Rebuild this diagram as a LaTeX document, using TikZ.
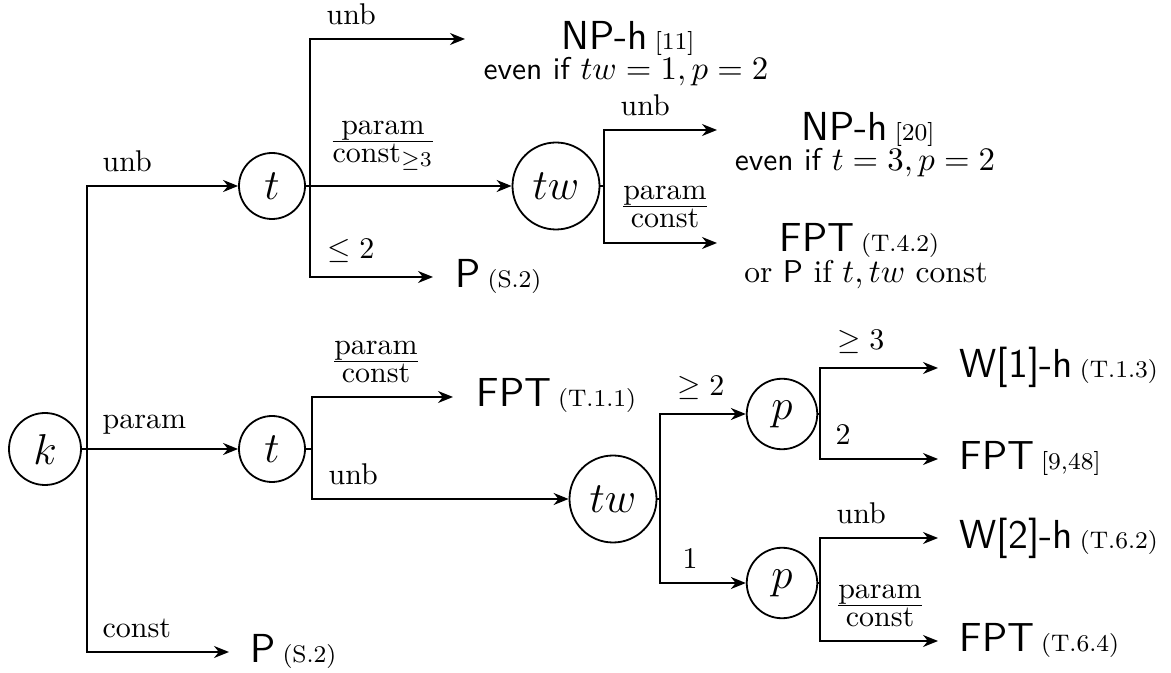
\documentclass[tikz,border=0pt]{standalone}
\usepackage{amsmath}
\usetikzlibrary{arrows.meta}
\tikzset{
  var/.style={draw, circle, line width=0.6pt, inner sep=0pt, font=\Large},
  conn/.style={line width=0.6pt},
  arr/.style={conn, -{Stealth[length=5pt,width=4pt]}},
  lbl/.style={inner sep=0pt, anchor=south west},
  flbl/.style={inner sep=0pt, anchor=south},
  res/.style={inner sep=0pt, anchor=base west, font=\fontsize{13.5}{15}\selectfont\sffamily},
  note/.style={inner sep=0pt, anchor=base, font=\fontsize{10.5}{12}\selectfont},
}
\newcommand{\rsub}[1]{\,{\footnotesize\rmfamily #1}}
\begin{document}
\begin{tikzpicture}[x=0.33333pt, y=-0.33333pt]
\useasboundingbox (0,0) rectangle (1171,673);
% decision nodes
\node[var, minimum size=24pt] (k) at (45,449) {$k$};
\node[var, minimum size=22pt] (t1) at (272,186) {$t$};
\node[var, minimum size=29pt] (tw1) at (556,186) {$tw$};
\node[var, minimum size=22pt] (t2) at (272,449) {$t$};
\node[var, minimum size=29pt] (tw2) at (613,499) {$tw$};
\node[var, minimum size=23.5pt] (p1) at (782,414) {$p$};
\node[var, minimum size=23.5pt] (p2) at (782,583) {$p$};
% split points
\coordinate (ks) at (87,449);
\coordinate (t1s) at (310,186);
\coordinate (tw1s) at (604,186);
\coordinate (t2s) at (312,449);
\coordinate (tw2s) at (660,499);
\coordinate (p1s) at (820,414);
\coordinate (p2s) at (820,583);
% arrow ends
\coordinate (e1) at (465,39);
\coordinate (e2) at (433,277);
\coordinate (e3) at (229,652);
\coordinate (e4) at (717,130);
\coordinate (e5) at (717,243);
\coordinate (e6) at (453,397);
\coordinate (e7) at (938,368);
\coordinate (e8) at (938,459);
\coordinate (e9) at (938,538);
\coordinate (e10) at (938,641);
% stubs
\draw[conn] (k) -- (ks);
\draw[conn] (t1) -- (t1s);
\draw[conn] (tw1) -- (tw1s);
\draw[conn] (t2) -- (t2s);
\draw[conn] (tw2) -- (tw2s);
\draw[conn] (p1) -- (p1s);
\draw[conn] (p2) -- (p2s);
% branches
\draw[arr] (ks) |- (t1);
\draw[arr] (ks) -- (t2);
\draw[arr] (ks) |- (e3);
\draw[arr] (t1s) |- (e1);
\draw[arr] (t1s) -- (tw1);
\draw[arr] (t1s) |- (e2);
\draw[arr] (tw1s) |- (e4);
\draw[arr] (tw1s) |- (e5);
\draw[arr] (t2s) |- (e6);
\draw[arr] (t2s) |- (tw2);
\draw[arr] (tw2s) |- (p1);
\draw[arr] (tw2s) |- (p2);
\draw[arr] (p1s) |- (e7);
\draw[arr] (p1s) |- (e8);
\draw[arr] (p2s) |- (e9);
\draw[arr] (p2s) |- (e10);
% branch labels
\node[lbl] (lk1) at (102,172) {unb};
\node[lbl] (lk2) at (102,435) {param};
\node[lbl] (lk3) at (102,638) {const};
\node[lbl] (lt11) at (326,25) {unb};
\node[flbl] (lt12) at (383,171) {$\frac{\mbox{param}}{\mbox{const$_{\geq 3}$}}$};
\node[lbl] (lt13) at (327,263) {$\leq 2$};
\node[lbl] (lw11) at (620,116) {unb};
\node[flbl] (lw12) at (665,228) {$\frac{\mbox{param}}{\mbox{const}}$};
\node[flbl] (lt21) at (376,383) {$\frac{\mbox{param}}{\mbox{const}}$};
\node[lbl] (lt22) at (328,485) {unb};
\node[lbl] (lw21) at (677,400) {$\geq 2$};
\node[lbl] (lw22) at (682,569) {$1$};
\node[lbl] (lp11) at (837,354) {$\geq 3$};
\node[lbl] (lp12) at (835,445) {$2$};
\node[lbl] (lp21) at (836,524) {unb};
\node[flbl] (lp22) at (880,627) {$\frac{\mbox{param}}{\mbox{const}}$};
% results
\node[res] (r1) at (561,50) {NP-h\rsub{[11]}};
\node[note] (n1) at (626,80) {\sffamily even if $tw = 1, p = 2$};
\node[res] (r2) at (455,288) {P\rsub{(S.2)}};
\node[res] (r3) at (801,141) {NP-h\rsub{[20]}};
\node[note] (n3) at (865,171) {\sffamily even if $t = 3, p = 2$};
\node[res] (r4) at (779,252) {FPT\rsub{(T.4.2)}};
\node[note] (n4) at (866,283) {or \textsf{P} if $t, tw$ const};
\node[res] (r5) at (476,407) {FPT\rsub{(T.1.1)}};
\node[res] (r6) at (250,662) {P\rsub{(S.2)}};
\node[res] (r7) at (959,378) {W[1]-h\rsub{(T.1.3)}};
\node[res] (r8) at (959,470) {FPT\rsub{[9,48]}};
\node[res] (r9) at (959,548) {W[2]-h\rsub{(T.6.2)}};
\node[res] (r10) at (959,651) {FPT\rsub{(T.6.4)}};
\end{tikzpicture}
\end{document}
